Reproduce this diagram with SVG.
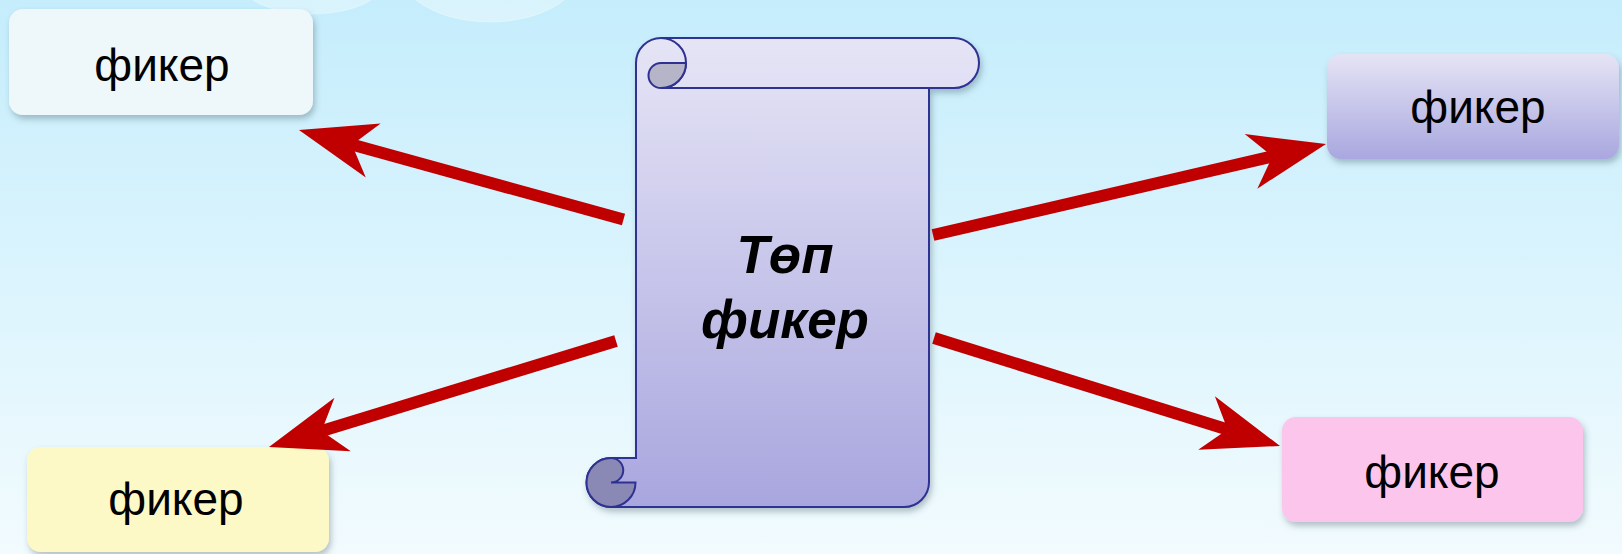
<svg xmlns="http://www.w3.org/2000/svg" width="1622" height="554" viewBox="0 0 1622 554">
<defs>
  <linearGradient id="bg" x1="0" y1="0" x2="0" y2="1">
    <stop offset="0" stop-color="#c5edfc"/>
    <stop offset="0.5" stop-color="#dbf4fd"/>
    <stop offset="1" stop-color="#f2fbfe"/>
  </linearGradient>
  <linearGradient id="scrollFill" gradientUnits="userSpaceOnUse" x1="0" y1="38" x2="0" y2="507">
    <stop offset="0" stop-color="#e6e5f6"/>
    <stop offset="1" stop-color="#a8a6de"/>
  </linearGradient>
  <linearGradient id="lav" x1="0" y1="0" x2="0" y2="1">
    <stop offset="0" stop-color="#e5e4f5"/>
    <stop offset="1" stop-color="#a9a7df"/>
  </linearGradient>
  <filter id="shadow" x="-10%" y="-10%" width="130%" height="140%">
    <feDropShadow dx="2" dy="4" stdDeviation="3" flood-color="#3a5560" flood-opacity="0.35"/>
  </filter>
  <marker id="ah" markerUnits="userSpaceOnUse" markerWidth="80" markerHeight="60" refX="27" refY="28" orient="auto" overflow="visible">
    <path d="M77,28 L0,0 L22,28 L0,56 Z" fill="#c00000"/>
  </marker>
</defs>
<style>
  .lbl { font-family: "Liberation Sans", Arial, sans-serif; font-size: 46px; fill: #000; text-anchor: middle; }
  .title { font-family: "Liberation Sans", Arial, sans-serif; font-size: 53px; font-weight: bold; font-style: italic; fill: #000; text-anchor: middle; }
  .ln { fill: none; stroke: #2e3192; stroke-width: 2; }
  .box { filter: url(#shadow); }
  #connectors line { stroke: #c00000; stroke-width: 12; marker-end: url(#ah); }
</style>

<rect x="0" y="0" width="1622" height="554" fill="url(#bg)"/>
<g id="clouds" fill="#ffffff" fill-opacity="0.35" stroke="#ffffff" stroke-opacity="0.3">
  <ellipse cx="312" cy="-22" rx="75" ry="36"/>
  <ellipse cx="490" cy="-32" rx="92" ry="54"/>
</g>

<g id="center-node">
  <g filter="url(#shadow)">
    <path d="M636,63 L636,458 L611,458 A24.5,24.5 0 0 0 611,507 L904,507 A25,25 0 0 0 929,482 L929,88 L954,88 A25,25 0 0 0 954,38 L661,38 A25,25 0 0 0 636,63 Z" fill="url(#scrollFill)" stroke="#2e3192" stroke-width="2"/>
  </g>
  <path class="ln" d="M661,88 L929,88"/>
  <path class="ln" d="M661,38 A25,25 0 0 1 661,88"/>
  <path d="M661,63 L686,63 A25,25 0 0 1 661,88 A12.5,12.5 0 0 1 661,63 Z" fill="#b5b4c9" stroke="#2e3192" stroke-width="2"/>
  <path d="M611,458 A24.5,24.5 0 1 0 635.5,482.5 L611,482.5 A12.25,12.25 0 0 0 611,458 Z" fill="#8a88b4" stroke="#2e3192" stroke-width="2"/>
  <text class="title" x="785" y="273">Төп</text>
  <text class="title" x="785" y="338">фикер</text>
</g>

<g id="node-top-left">
  <rect class="box" x="9" y="9" width="304" height="106" rx="14" fill="#eef7f9"/>
  <text class="lbl" x="162" y="81">фикер</text>
</g>
<g id="node-top-right">
  <rect class="box" x="1327" y="54" width="292" height="105" rx="14" fill="url(#lav)"/>
  <text class="lbl" x="1478" y="123">фикер</text>
</g>
<g id="node-bottom-right">
  <rect class="box" x="1282" y="417" width="301" height="105" rx="14" fill="#fcc6ec"/>
  <text class="lbl" x="1432" y="488">фикер</text>
</g>
<g id="node-bottom-left">
  <rect class="box" x="27" y="447" width="302" height="105" rx="14" fill="#fdf9c7"/>
  <text class="lbl" x="176" y="515">фикер</text>
</g>

<g id="connectors">
  <line x1="623.5" y1="219.5" x2="347.2" y2="143.3"/>
  <line x1="933" y1="235" x2="1277.3" y2="155.3"/>
  <line x1="616" y1="341" x2="316.8" y2="432.4"/>
  <line x1="934" y1="338" x2="1232.3" y2="431.1"/>
</g>
</svg>
